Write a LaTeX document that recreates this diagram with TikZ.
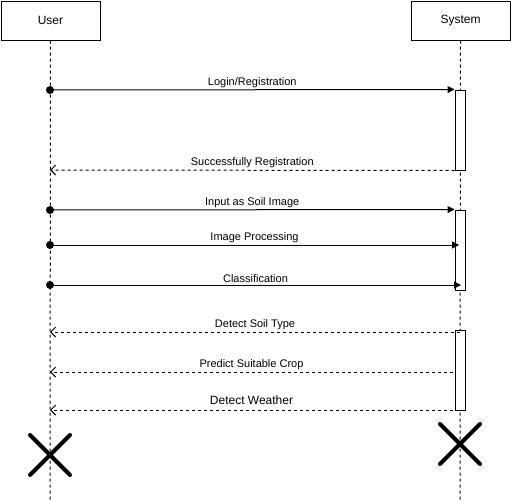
\documentclass[tikz,border=0pt]{standalone}
\usepackage{fontspec}
\setmainfont{Liberation Sans}
\usetikzlibrary{arrows.meta}

\newcommand{\Cross}{
    \draw[kill] (-20,-20) -- (20,20);
    \draw[kill] (-20,20) -- (20,-20);
}

\tikzset{
    actor/.style={draw, minimum width=99, minimum height=39, inner sep=0pt, font=\fontsize{12}{14}\selectfont},
    life/.style={dash pattern=on 3pt off 3pt},
    act/.style={draw, fill=white, minimum width=10, minimum height=80, inner sep=0pt},
    call/.style={-{Triangle[length=7pt,width=7pt]}},
    reply/.style={dash pattern=on 3pt off 3pt, -{Straight Barb[length=5pt,width=10pt]}},
    lbl/.style={above, inner sep=1.5pt, font=\fontsize{11}{13}\selectfont},
    kill/.style={line width=4pt, line cap=round},
}

\begin{document}
\begin{tikzpicture}[x=1pt, y=-1pt, line width=1pt]
    \useasboundingbox (0,0) rectangle (511,501);

    % actors
    \node[actor] (user) at (50.5,20.5) {User};
    \node[actor] (sys) at (460.5,20.5) {System};

    % lifelines
    \coordinate (uend) at (50,501);
    \coordinate (send) at (460,501);
    \draw[life] (user.south) -- (uend);
    \draw[life] (sys.south) -- (send);

    % activations
    \node[act] (act1) at (460,130) {};
    \node[act] (act2) at (460,250) {};
    \node[act] (act3) at (460,370) {};

    % points on the user lifeline
    \coordinate (u1) at (50,90);
    \coordinate (u2) at (50,170);
    \coordinate (u3) at (50,210);
    \coordinate (u4) at (50,245);
    \coordinate (u5) at (50,285);
    \coordinate (u6) at (50,332);
    \coordinate (u7) at (50,372);
    \coordinate (u8) at (50,410);

    % points on the system side
    \coordinate (s4) at (459,245);
    \coordinate (s5) at (461,285);
    \coordinate (s6) at (460,332);
    \coordinate (s7) at (453,372);
    \coordinate (s8) at (453,410);

    % login
    \fill (u1) circle (4);
    \draw[call] (u1) -- (act1.north west) node[lbl, midway] {Login/Registration};
    \draw[reply] (act1.south west) -- (u2) node[lbl, midway] {Successfully Registration};

    % soil image
    \fill (u3) circle (4);
    \draw[call] (u3) -- (act2.north west) node[lbl, midway] {Input as Soil Image};
    \fill (u4) circle (4);
    \draw[call] (u4) -- (s4) node[lbl, midway] {Image Processing};
    \fill (u5) circle (4);
    \draw[call] (u5) -- (s5) node[lbl, midway] {Classification};

    % results
    \draw[reply] (s6) -- (u6) node[lbl, midway] {Detect Soil Type};
    \draw[reply] (s7) -- (u7) node[lbl, midway] {Predict Suitable Crop};
    \draw[reply] (s8) -- (u8) node[lbl, midway, inner sep=4.5pt, font=\fontsize{12}{14}\selectfont] {Detect Weather};

    % destroy
    \begin{scope}[shift={(50,455)}]
        \Cross
    \end{scope}
    \begin{scope}[shift={(460,444)}]
        \Cross
    \end{scope}
\end{tikzpicture}
\end{document}
